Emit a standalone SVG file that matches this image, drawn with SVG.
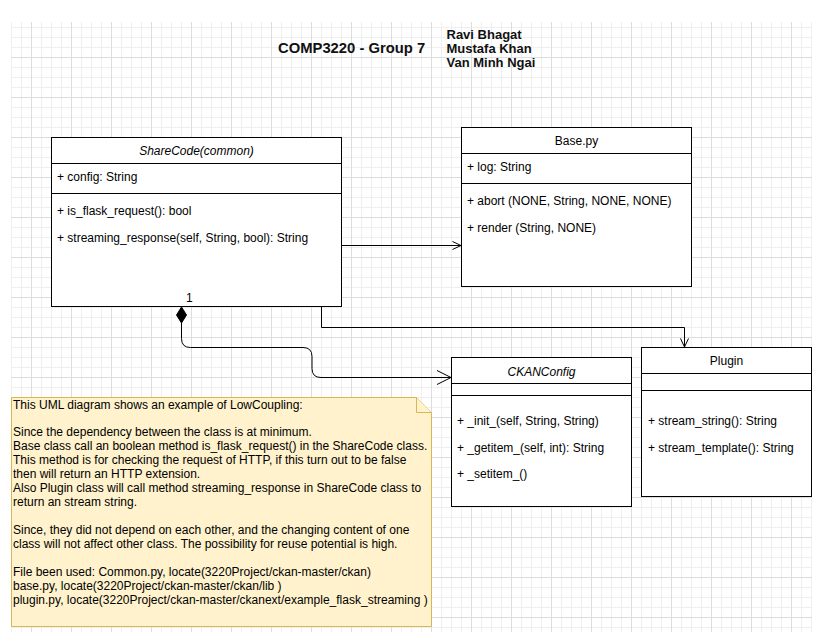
<svg xmlns="http://www.w3.org/2000/svg" width="821" height="635" viewBox="0 0 821 635">
  <style>
    .box { fill: #ffffff; stroke: #000000; stroke-width: 1; }
    .sep { stroke: #000000; stroke-width: 1; fill: none; }
    .txt { font-family: "Liberation Sans", Arial, sans-serif; font-size: 12px; fill: #000000; }
    .ttl { font-family: "Liberation Sans", Arial, sans-serif; font-size: 12px; fill: #000000; text-anchor: middle; }
    .it { font-style: italic; }
    .edge { fill: none; stroke: #000000; stroke-width: 1; }
    .head { font-family: "Liberation Sans", Arial, sans-serif; font-weight: bold; fill: #111111; }
    .note { fill: #fff2cc; stroke: #d6b656; stroke-width: 1; }
  </style>
  <defs>
    <pattern id="grid" x="31" y="57" width="40" height="40" patternUnits="userSpaceOnUse">
      <path d="M10.5,0 V40 M20.5,0 V40 M30.5,0 V40 M0,10.5 H40 M0,20.5 H40 M0,30.5 H40" stroke="#efefef" stroke-width="1" fill="none"/>
      <path d="M0.5,0 V40 M0,0.5 H40" stroke="#dddddd" stroke-width="1" fill="none"/>
    </pattern>
  </defs>

  <rect width="821" height="635" fill="#ffffff"/>
  <rect x="11" y="22" width="801" height="610" fill="url(#grid)"/>

  <!-- heading -->
  <g id="heading">
    <text class="head" x="278" y="53" font-size="14.8">COMP3220 - Group 7</text>
    <text class="head" x="446.5" y="38.5" font-size="13">Ravi Bhagat</text>
    <text class="head" x="446.5" y="52.5" font-size="13">Mustafa Khan</text>
    <text class="head" x="446.5" y="66.5" font-size="13">Van Minh Ngai</text>
  </g>

  <!-- ShareCode(common) -->
  <g id="sharecode">
    <rect class="box" x="51.5" y="137.5" width="290" height="169"/>
    <path class="sep" d="M51.5,163.5 H341.5 M51.5,193.5 H341.5"/>
    <text class="ttl it" x="196.5" y="155">ShareCode(common)</text>
    <text class="txt" x="57" y="181">+ config: String</text>
    <text class="txt" x="57" y="215">+ is_flask_request(): bool</text>
    <text class="txt" x="57" y="241.5">+ streaming_response(self, String, bool): String</text>
  </g>

  <!-- Base.py -->
  <g id="base">
    <rect class="box" x="461.5" y="127.5" width="230" height="159"/>
    <path class="sep" d="M461.5,153.5 H691.5 M461.5,183.5 H691.5"/>
    <text class="ttl" x="576.5" y="145">Base.py</text>
    <text class="txt" x="467" y="171">+ log: String</text>
    <text class="txt" x="467" y="205">+ abort (NONE, String, NONE, NONE)</text>
    <text class="txt" x="467" y="231.5">+ render (String, NONE)</text>
  </g>

  <!-- CKANConfig -->
  <g id="ckanconfig">
    <rect class="box" x="451.5" y="357.5" width="180" height="149"/>
    <path class="sep" d="M451.5,383.5 H631.5 M451.5,395.5 H631.5"/>
    <text class="ttl it" x="541.5" y="375.5">CKANConfig</text>
    <text class="txt" x="457" y="425">+ _init_(self, String, String)</text>
    <text class="txt" x="457" y="451.5">+ _getitem_(self, int): String</text>
    <text class="txt" x="457" y="478">+ _setitem_()</text>
  </g>

  <!-- Plugin -->
  <g id="plugin">
    <rect class="box" x="641.5" y="347.5" width="170" height="149"/>
    <path class="sep" d="M641.5,373.5 H811.5 M641.5,390.5 H811.5"/>
    <text class="ttl" x="726.5" y="365">Plugin</text>
    <text class="txt" x="648" y="425">+ stream_string(): String</text>
    <text class="txt" x="648" y="451.5">+ stream_template(): String</text>
  </g>

  <!-- connectors -->
  <g id="connectors">
    <!-- ShareCode -> Base.py -->
    <path class="edge" d="M341.5,245.5 H461"/>
    <path class="edge" d="M452.5,241.5 L461,245.5 L452.5,249.5"/>
    <!-- ShareCode -> Plugin -->
    <path class="edge" d="M321.5,306.5 V327.5 H684.5 V347"/>
    <path class="edge" d="M680.5,338.5 L684.5,347 L688.5,338.5"/>
    <!-- ShareCode composition -> CKANConfig -->
    <path d="M181.5,307 L186.5,315 L181.5,323 L176.5,315 Z" fill="#000000" stroke="#000000" stroke-width="1"/>
    <path class="edge" d="M181.5,323 V338.5 Q181.5,347.5 190.5,347.5 H303 Q312,347.5 312,356.5 V368.5 Q312,377.5 321,377.5 H451"/>
    <path class="edge" d="M437,370.5 L451,377.5 L437,384.5"/>
    <text class="txt" x="186" y="302" font-size="11">1</text>
  </g>

  <!-- explanatory note -->
  <g id="note">
    <path class="note" d="M11.5,397.5 H416.5 L431.5,412.5 V626.5 H11.5 Z"/>
    <path class="note" d="M416.5,397.5 V412.5 H431.5"/>
    <text class="txt">
      <tspan x="13" y="409">This UML diagram shows an example of LowCoupling:</tspan>
      <tspan x="13" y="436">Since the dependency between the class is at minimum.</tspan>
      <tspan x="13" y="450">Base class call an boolean method is_flask_request() in the ShareCode class.</tspan>
      <tspan x="13" y="464">This method is for checking the request of HTTP, if this turn out to be false</tspan>
      <tspan x="13" y="478">then will return an HTTP extension.</tspan>
      <tspan x="13" y="492">Also Plugin class will call method streaming_response in ShareCode class to</tspan>
      <tspan x="13" y="506">return an stream string.</tspan>
      <tspan x="13" y="534">Since, they did not depend on each other, and the changing content of one</tspan>
      <tspan x="13" y="548">class will not affect other class. The possibility for reuse potential is high.</tspan>
      <tspan x="13" y="576">File been used: Common.py, locate(3220Project/ckan-master/ckan)</tspan>
      <tspan x="13" y="590">base.py, locate(3220Project/ckan-master/ckan/lib )</tspan>
      <tspan x="13" y="604">plugin.py, locate(3220Project/ckan-master/ckanext/example_flask_streaming )</tspan>
    </text>
  </g>
</svg>
